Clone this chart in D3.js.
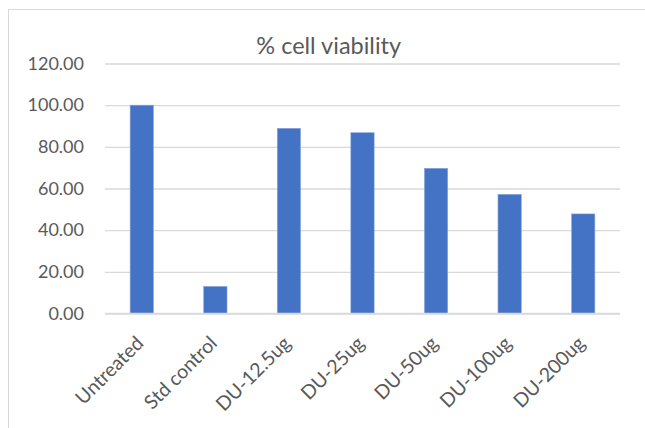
<!DOCTYPE html>
<html>
<head>
<meta charset="utf-8">
<script src="https://cdn.jsdelivr.net/npm/d3@7/dist/d3.min.js"></script>
<style>
  html, body { margin: 0; padding: 0; background: #ffffff; }
  svg { display: block; }
  text { font-family: Lato, "Open Sans", sans-serif; fill: #595959; }
</style>
</head>
<body>
<svg id="chart" width="645" height="428"></svg>
<script>
// Cell viability (%) per treatment group
const categories = ["Untreated", "Std control", "DU-12.5ug", "DU-25ug", "DU-50ug", "DU-100ug", "DU-200ug"];
const viability = [100.0, 13.0, 88.9, 86.8, 69.7, 57.2, 47.8];
const yTicks = [0, 20, 40, 60, 80, 100, 120];
const titleText = "% cell viability";

const svg = d3.select("#chart");
const W = 645, H = 428;
const plot = { left: 105, right: 620, top: 63.5, bottom: 313.5 };

svg.append("rect").attr("width", W).attr("height", H).attr("fill", "#ffffff");

// chart area frame
svg.append("rect")
  .attr("x", 8.5).attr("y", 9.5)
  .attr("width", 700).attr("height", 500)
  .attr("fill", "none").attr("stroke", "#d9d9d9").attr("stroke-width", 1);

const x = d3.scaleBand()
  .domain(categories)
  .range([plot.left, plot.right])
  .paddingInner(0.683)
  .paddingOuter(0.3415);

const y = d3.scaleLinear()
  .domain([0, 120])
  .range([plot.bottom, plot.top]);

// horizontal gridlines + value labels
const yAxis = d3.axisLeft(y)
  .tickValues(yTicks)
  .tickFormat(d3.format(".2f"))
  .tickSize(-(plot.right - plot.left))
  .tickPadding(21);

const gy = svg.append("g")
  .attr("transform", `translate(${plot.left},0)`)
  .call(yAxis);
gy.select(".domain").remove();
gy.selectAll(".tick line").attr("stroke", "#d9d9d9").attr("stroke-width", 1.3);
gy.selectAll(".tick text")
  .style("font-size", "18px")
  .attr("fill", "#595959");

// bars
svg.append("g").selectAll("rect")
  .data(categories)
  .join("rect")
  .attr("x", d => x(d))
  .attr("width", x.bandwidth())
  .attr("y", (d, i) => y(viability[i]))
  .attr("height", (d, i) => y(0) - y(viability[i]))
  .attr("fill", "#4472c4")
  .attr("stroke", "#8eaadb")
  .attr("stroke-width", 0.6);

// category axis
const xAxis = d3.axisBottom(x).tickSize(0).tickPadding(0);
const gx = svg.append("g")
  .attr("transform", `translate(0,${plot.bottom})`)
  .call(xAxis);
gx.select(".domain").remove();
gx.selectAll(".tick text")
  .style("font-size", "19.5px")
  .attr("fill", "#595959")
  .attr("text-anchor", "end")
  .attr("dy", 0)
  .attr("y", 0)
  .attr("transform", "translate(3,31) rotate(-45)");

svg.append("line")
  .attr("x1", plot.left).attr("x2", plot.right)
  .attr("y1", plot.bottom).attr("y2", plot.bottom)
  .attr("stroke", "#d9d9d9").attr("stroke-width", 1.3);

// title
svg.append("text")
  .attr("x", 328.7).attr("y", 54)
  .attr("text-anchor", "middle")
  .style("font-size", "23.5px")
  .attr("fill", "#595959")
  .text(titleText);
</script>
</body>
</html>
